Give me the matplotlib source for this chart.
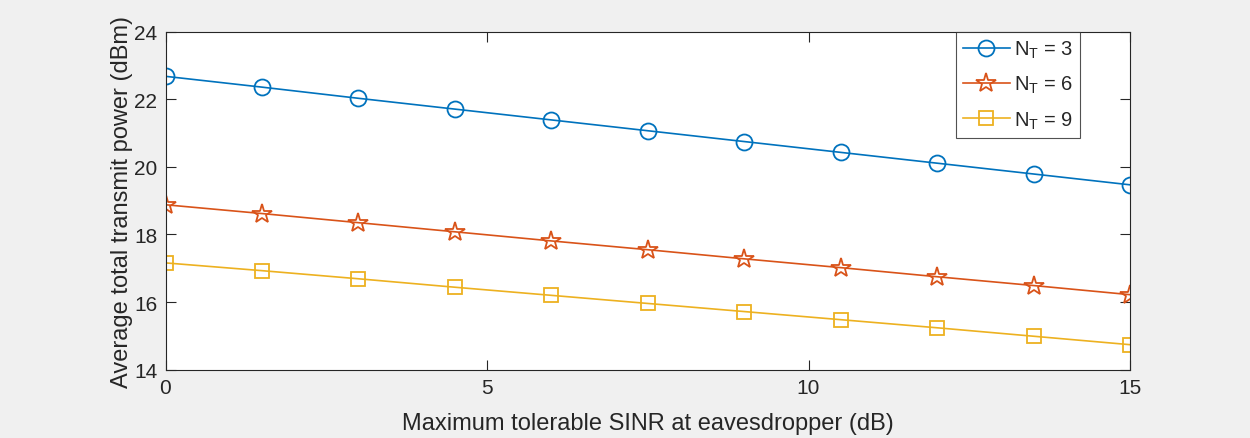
import matplotlib
matplotlib.use("Agg")
import matplotlib.pyplot as plt

x = [0, 1.5, 3, 4.5, 6, 7.5, 9, 10.5, 12, 13.5, 15]
nt3 = [22.68, 22.36, 22.03, 21.71, 21.39, 21.07, 20.75, 20.43, 20.11, 19.79, 19.47]
nt6 = [18.88, 18.62, 18.35, 18.08, 17.81, 17.55, 17.28, 17.02, 16.75, 16.49, 16.22]
nt9 = [17.16, 16.93, 16.69, 16.44, 16.20, 15.96, 15.72, 15.48, 15.24, 14.99, 14.74]
labels = ["$N_T$ = 3", "$N_T$ = 6", "$N_T$ = 9"]
xticks = [0, 5, 10, 15]
yticks = [14, 16, 18, 20, 22, 24]

plt.rcParams['font.family'] = ['Liberation Sans', 'DejaVu Sans']
plt.rcParams['mathtext.fontset'] = 'custom'
plt.rcParams['mathtext.rm'] = 'Liberation Sans'
plt.rcParams['mathtext.it'] = 'Liberation Sans'
plt.rcParams['mathtext.default'] = 'regular'

fig = plt.figure(figsize=(12.5, 4.39), dpi=100, facecolor='#f0f0f0')
ax = fig.add_axes([0.1324, 0.1556, 0.904 - 0.1324, 0.9255 - 0.1556])
ax.set_facecolor('white')

ax.plot(x, nt3, color='#0072BD', marker='o', markersize=11.5, markerfacecolor='none',
        markeredgewidth=1.3, linewidth=1.2, label=labels[0])
ax.plot(x, nt6, color='#D95319', marker='*', markersize=15, markerfacecolor='none',
        markeredgewidth=1.3, linewidth=1.2, label=labels[1])
ax.plot(x, nt9, color='#EDB120', marker='s', markersize=9.5, markerfacecolor='none',
        markeredgewidth=1.3, linewidth=1.2, label=labels[2])

ax.set_xlim(0, 15)
ax.set_ylim(14, 24)
ax.set_xticks(xticks)
ax.set_yticks(yticks)
ax.tick_params(direction='in', length=7, width=0.8, colors='#262626', labelsize=15,
               top=True, right=True, pad=6)
for s in ax.spines.values():
    s.set_color('#262626')
    s.set_linewidth(0.8)

ax.set_xlabel('Maximum tolerable SINR at eavesdropper (dB)', fontsize=17, color='#262626', labelpad=11)
ax.set_ylabel('Average total transmit power (dBm)', fontsize=17, color='#262626', labelpad=1)

leg = ax.legend(loc='upper right', bbox_to_anchor=(0.948, 1.0), fontsize=14.5, frameon=True,
                fancybox=False, edgecolor='#262626', borderaxespad=0, handlelength=2.3,
                handletextpad=0.2, labelspacing=0.7, borderpad=0.35)
leg.get_frame().set_linewidth(0.8)
for t in leg.get_texts():
    t.set_color('#262626')

fig.savefig('out.png', dpi=100, facecolor=fig.get_facecolor())
